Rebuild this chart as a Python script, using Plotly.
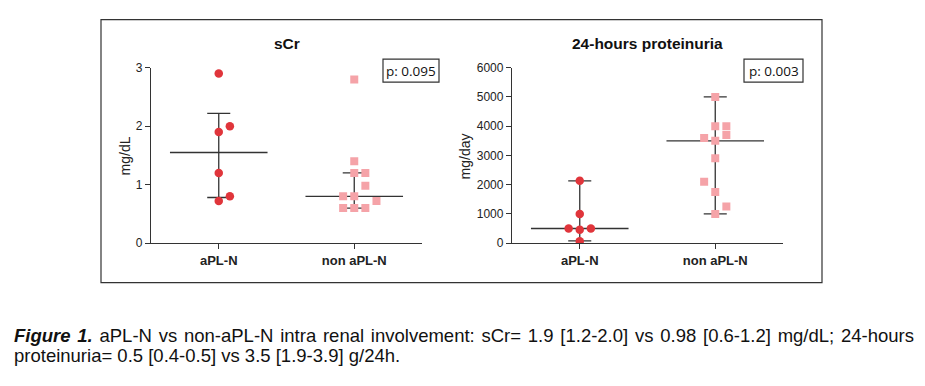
import plotly.graph_objects as go

W, H = 925, 386
categories = ["aPL-N", "non aPL-N"]

# sCr (mg/dL)
scr_apl = [2.9, 2.0, 1.9, 1.2, 0.8, 0.72]
scr_apl_slot = [0, 1, 0, 0, 1, 0]
scr_non = [2.8, 1.4, 1.2, 1.2, 0.98, 0.8, 0.8, 0.72, 0.6, 0.6, 0.6]
scr_non_slot = [0, 0, 0, 1, 1, -1, 0, 2, -1, 0, 1]
scr_center = [1.55, 0.80]
scr_low = [0.78, 0.60]
scr_high = [2.22, 1.20]

# 24-hours proteinuria (mg/day)
prot_apl = [2130, 1000, 500, 460, 500, 60]
prot_apl_slot = [0, 0, -1, 0, 1, 0]
prot_non = [5000, 4000, 4000, 3700, 3600, 3500, 2900, 2100, 1750, 1250, 1000]
prot_non_slot = [0, 0, 1, 1, -1, 0, 0, -1, 0, 1, 0]
prot_center = [500, 3500]
prot_low = [80, 1000]
prot_high = [2130, 5000]

p_values = ["p: 0.095", "p: 0.003"]
titles = ["sCr", "24-hours proteinuria"]
ytitles = ["mg/dL", "mg/day"]

RED = "#e0353b"
PINK = "#f5a3a8"
DARK = "#333333"
SLOT = 0.082
HALF_MED = 0.36
HALF_CAP = 0.085
FONT = "Liberation Sans, Arial, sans-serif"

fig = go.Figure()

def px2x(p):
    return p / W

def px2y(p):
    return 1 - p / H

panels = [
    dict(xa="x", ya="y", a=scr_apl, asl=scr_apl_slot, n=scr_non, nsl=scr_non_slot,
         c=scr_center, lo=scr_low, hi=scr_high),
    dict(xa="x2", ya="y2", a=prot_apl, asl=prot_apl_slot, n=prot_non, nsl=prot_non_slot,
         c=prot_center, lo=prot_low, hi=prot_high),
]

for pn in panels:
    for i in range(2):
        fig.add_trace(go.Scatter(x=[i - HALF_MED, i + HALF_MED], y=[pn["c"][i]] * 2, mode="lines",
                                 line=dict(color=DARK, width=1.3), xaxis=pn["xa"], yaxis=pn["ya"],
                                 showlegend=False, hoverinfo="skip"))
        fig.add_trace(go.Scatter(x=[i, i], y=[pn["lo"][i], pn["hi"][i]], mode="lines",
                                 line=dict(color=DARK, width=1.3), xaxis=pn["xa"], yaxis=pn["ya"],
                                 showlegend=False, hoverinfo="skip"))
        for v in (pn["lo"][i], pn["hi"][i]):
            fig.add_trace(go.Scatter(x=[i - HALF_CAP, i + HALF_CAP], y=[v, v], mode="lines",
                                     line=dict(color=DARK, width=1.3), xaxis=pn["xa"], yaxis=pn["ya"],
                                     showlegend=False, hoverinfo="skip"))
    fig.add_trace(go.Scatter(x=[0 + s * SLOT for s in pn["asl"]], y=pn["a"], mode="markers",
                             marker=dict(symbol="circle", size=8.5, color=RED, line=dict(width=0)),
                             xaxis=pn["xa"], yaxis=pn["ya"], showlegend=False))
    fig.add_trace(go.Scatter(x=[1 + s * SLOT for s in pn["nsl"]], y=pn["n"], mode="markers",
                             marker=dict(symbol="square", size=8, color=PINK, line=dict(width=0)),
                             xaxis=pn["xa"], yaxis=pn["ya"], showlegend=False))

axis_common = dict(showgrid=False, zeroline=False, showline=True, linecolor=DARK, linewidth=1.3,
                   ticks="outside", tickcolor=DARK, tickwidth=1.3, ticklen=5)
xcommon = dict(axis_common, range=[-0.5, 1.5], tickvals=[0, 1],
               ticktext=["<b>%s</b>" % c for c in categories],
               tickfont=dict(family=FONT, size=13, color="#222"))
ydom = [px2y(245), px2y(63)]
yfont = dict(family=FONT, size=12, color="#222")
fig.update_layout(
    width=W, height=H, margin=dict(l=0, r=0, t=0, b=0),
    paper_bgcolor="white", plot_bgcolor="white",
    xaxis=dict(xcommon, domain=[px2x(151), px2x(422)], anchor="y"),
    xaxis2=dict(xcommon, domain=[px2x(512), px2x(783)], anchor="y2"),
    yaxis=dict(axis_common, domain=ydom, range=[0, 3], tickvals=[0, 1, 2, 3], anchor="x", tickfont=yfont),
    yaxis2=dict(axis_common, domain=ydom, range=[0, 6000], tickvals=[0, 1000, 2000, 3000, 4000, 5000, 6000],
                anchor="x2", tickfont=yfont),
)

# y-axis titles
for t, cx in zip(ytitles, [125, 465]):
    fig.add_annotation(text=t, xref="paper", yref="paper", x=px2x(cx), y=px2y(155), textangle=-90,
                       showarrow=False, xanchor="center", yanchor="middle",
                       font=dict(family=FONT, size=14, color="#222"))

fig.add_shape(type="rect", xref="paper", yref="paper", x0=px2x(101), x1=px2x(822), y0=px2y(286), y1=px2y(13),
              line=dict(color=DARK, width=1.2))

for t, cx in zip(titles, [287, 647]):
    fig.add_annotation(text="<b>%s</b>" % t, xref="paper", yref="paper", x=px2x(cx), y=px2y(38),
                       showarrow=False, xanchor="center", yanchor="middle",
                       font=dict(family=FONT, size=15.5, color="#111"))

for pv, (x0, x1) in zip(p_values, [(383, 439), (744, 803)]):
    fig.add_shape(type="rect", xref="paper", yref="paper", x0=px2x(x0), x1=px2x(x1), y0=px2y(78), y1=px2y(54),
                  line=dict(color=DARK, width=1.2))
    fig.add_annotation(text=pv, xref="paper", yref="paper", x=px2x((x0 + x1) / 2), y=px2y(66),
                       showarrow=False, xanchor="center", yanchor="middle",
                       font=dict(family="Open Sans, Noto Sans, sans-serif", size=13.5, color="#111"))

cap_font = dict(family=FONT, size=18.5, color="#111")
line1 = "<b><i>Figure 1.</i></b> aPL-N vs non-aPL-N intra renal involvement: sCr= 1.9 [1.2-2.0] vs 0.98 [0.6-1.2] mg/dL; 24-hours"
line2 = "proteinuria= 0.5 [0.4-0.5] vs 3.5 [1.9-3.9] g/24h."
fig.add_annotation(text=line1, xref="paper", yref="paper", x=px2x(12), y=px2y(341), showarrow=False,
                   xanchor="left", yanchor="middle", font=cap_font)
fig.add_annotation(text=line2, xref="paper", yref="paper", x=px2x(12), y=px2y(362), showarrow=False,
                   xanchor="left", yanchor="middle", font=cap_font)

post = """
document.body.style.margin='0';
document.body.style.overflow='hidden';
var els = document.querySelectorAll('.annotation-text');
els.forEach(function(el){
  var t = el.textContent || '';
  if (t.indexOf('Figure 1.') === 0) {
    var len = el.getComputedTextLength();
    var n = (t.match(/ /g) || []).length;
    if (n > 0 && len < 900) {
      var r0 = el.getBoundingClientRect().left;
      el.style.wordSpacing = ((900 - len) / n) + 'px';
      var r1 = el.getBoundingClientRect().left;
      el.setAttribute('transform', 'translate(' + (r0 - r1) + ',0)');
    }
  }
});
"""
fig.write_html("out.html", post_script=post, config={"displayModeBar": False})
